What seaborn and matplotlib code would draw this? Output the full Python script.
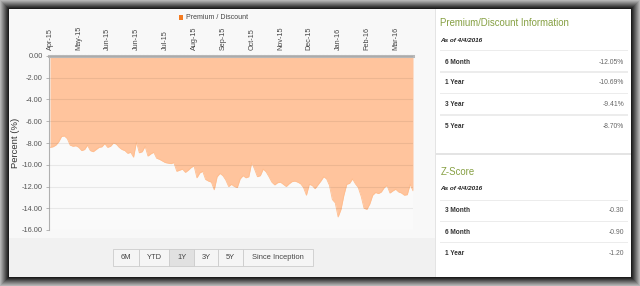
import numpy as np
import pandas as pd
import matplotlib
matplotlib.use("Agg")
import matplotlib.pyplot as plt
import seaborn as sns
from matplotlib.patches import Rectangle

# ---------------- data ----------------
values = [
    -8.4, -8.35, -8.2, -7.9, -7.4, -7.35, -7.6, -8.2, -8.3, -8.25,
    -8.4, -8.7, -8.6, -8.2, -8.7, -8.8, -8.6, -8.4, -8.35, -8.05,
    -8.4, -8.3, -8.0, -8.1, -8.4, -8.6, -8.7, -8.95, -8.85, -9.3,
    -7.9, -8.9, -8.8, -8.3, -9.2, -9.0, -8.85, -9.4, -9.5, -9.65,
    -9.8, -9.85, -9.9, -9.8, -10.6, -10.5, -10.4, -10.7, -10.5, -10.25,
    -10.1, -11.2, -10.75, -10.6, -11.35, -11.5, -11.6, -12.3, -11.1, -10.8,
    -11.0, -11.4, -12.0, -11.8, -12.0, -12.1, -11.3, -11.0, -11.2, -11.1,
    -9.8, -10.4, -11.1, -11.0, -10.4, -10.65, -11.1, -11.6, -11.85, -11.65,
    -11.6, -11.8, -12.0, -11.75, -11.55, -11.5, -11.6, -11.75, -12.1, -12.8,
    -11.8, -11.9, -12.2, -11.85, -11.5, -11.1, -11.3, -11.9, -13.2, -13.5,
    -14.8, -14.1, -12.8, -11.8, -11.7, -11.3, -11.75, -12.1, -12.9, -14.0,
    -14.1, -13.6, -12.8, -12.55, -12.65, -12.5, -12.1, -11.9, -12.6, -12.4,
    -12.25, -12.5, -12.6, -12.8, -12.75, -11.8, -12.4,
]
tick_labels = ["Apr-15", "May-15", "Jun-15", "Jun-15", "Jul-15", "Aug-15", "Sep-15",
               "Oct-15", "Nov-15", "Dec-15", "Jan-16", "Feb-16", "Mar-16"]
tick_step = 10
y_ticks = [0, -2, -4, -6, -8, -10, -12, -14, -16]
series_name = "Premium / Discount"
y_label = "Percent (%)"
buttons = ["6M", "YTD", "1Y", "3Y", "5Y", "Since Inception"]
selected_button = "1Y"

pd_title = "Premium/Discount Information"
as_of = "As of 4/4/2016"
pd_labels = ["6 Month", "1 Year", "3 Year", "5 Year"]
pd_values = ["-12.05%", "-10.69%", "-9.41%", "-8.70%"]
z_title = "Z-Score"
z_labels = ["3 Month", "6 Month", "1 Year"]
z_values = ["-0.30", "-0.90", "-1.20"]

# ---------------- style ----------------
sns.set_style("white")
plt.rcParams["font.family"] = ["Liberation Sans", "DejaVu Sans"]

W, H = 640, 286
fig = plt.figure(figsize=(6.4, 2.86), dpi=100)
fig.patch.set_facecolor("#1a1a1a")


def fx(x):
    return x / W


def fy(y):
    return 1 - y / H


def prect(x0, y0, x1, y1, fc, ec="none", lw=0.0, z=-10):
    r = Rectangle((fx(x0), fy(y1)), (x1 - x0) / W, (y1 - y0) / H,
                  transform=fig.transFigure, facecolor=fc, edgecolor=ec,
                  linewidth=lw, zorder=z)
    fig.add_artist(r)
    return r


# gradient frame
frame_cols = ["#b4b4b4", "#a2a2a2", "#8e8e8e", "#7a7a7a", "#666666",
              "#525252", "#3e3e3e", "#2c2c2c", "#1c1c1c"]
for k, c in enumerate(frame_cols):
    prect(k, k, W - k, H - k, c, z=-20 + k * 0.1)

# left content background
prect(9, 9, 435, 277, "#f8f8f8", z=-9)
prect(9, 238, 435, 277, "#f1f1f1", z=-8.9)
# right panel
prect(435, 9, 631, 277, "#e4e4e4", z=-9)
prect(436, 9, 631, 153, "#ffffff", z=-8.8)
prect(436, 155, 631, 277, "#ffffff", z=-8.8)

# ---------------- chart ----------------
ax = fig.add_axes([fx(49), fy(230), (413 - 49) / W, (230 - 56) / H])
ax.set_facecolor("#fafafa")

df = pd.DataFrame({"idx": np.arange(len(values)), "value": values})
ax.fill_between(df["idx"], df["value"], 0, color="#ffc49d", lw=0, zorder=1)
sns.lineplot(data=df, x="idx", y="value", ax=ax, color="#ffbd8e", lw=0.6,
             zorder=2, legend=False)

ax.set_xlim(-0.35, 126.0)
ax.set_ylim(-16, 0)
ax.set_yticks(y_ticks)
ax.set_yticklabels([f"{v:.2f}" for v in y_ticks])
ax.set_xticks(np.arange(len(tick_labels)) * tick_step)
ax.set_xticklabels(tick_labels, rotation=90)
ax.xaxis.tick_top()
ax.tick_params(axis="x", length=0, pad=4, labelsize=5.2, labelcolor="#444444")
ax.tick_params(axis="y", length=2.5, width=0.6, color="#aaaaaa", pad=2,
               labelsize=5.3, labelcolor="#555555", left=True)
ax.set_xlabel("")
ax.set_ylabel("")
ax.grid(axis="y", color="black", alpha=0.07, lw=0.8)
ax.grid(axis="x", visible=False)
ax.set_axisbelow(False)
for s in ["right", "bottom"]:
    ax.spines[s].set_visible(False)
ax.spines["left"].set_color("#b0b0b0")
ax.spines["left"].set_linewidth(0.8)
ax.spines["top"].set_color("#b8b8b8")
ax.spines["top"].set_linewidth(2.2)
ax.spines["top"].set_linestyle((0, (0.6, 0.6)))

fig.text(fx(16), fy(143), y_label, rotation=90, ha="center", va="center",
         fontsize=6.8, color="#333333")

# legend
prect(178.5, 15, 182.5, 19.5, "#f47b20", z=5)
fig.text(fx(186), fy(17.5), series_name, ha="left", va="center",
         fontsize=5.0, color="#444444")

# buttons
edges = [113, 139.3, 169.3, 194, 218.3, 242.7, 313]
for i, b in enumerate(buttons):
    fc = "#e1e1e1" if b == selected_button else "#f5f5f5"
    prect(edges[i], 249, edges[i + 1], 266, fc, ec="#cccccc", lw=0.6, z=3)
    fig.text(fx((edges[i] + edges[i + 1]) / 2), fy(257.8), b, ha="center",
             va="center", fontsize=5.4, color="#444444", zorder=4)

# ---------------- right panel ----------------
green = "#86a043"


def table(title, ty, asy, labels, vals, seps, rows):
    fig.text(fx(440.5), fy(ty), title, ha="left", va="center",
             fontsize=6.9, color=green)
    fig.text(fx(440.5), fy(asy), as_of, ha="left", va="center",
             fontsize=4.6, color="#222222", fontweight="bold", style="italic")
    for s in seps:
        prect(440, s - 0.5, 628, s + 0.5, "#ececec", z=2)
    for lab, v, ry in zip(labels, vals, rows):
        fig.text(fx(445), fy(ry), lab, ha="left", va="center", fontsize=4.7,
                 color="#333333", fontweight="bold")
        fig.text(fx(624), fy(ry), v, ha="right", va="center", fontsize=4.9,
                 color="#666666")


table(pd_title, 23, 40, pd_labels, pd_values, [50.5, 72, 93.5, 115],
      [62, 83, 104.5, 126])
table(z_title, 172, 188.7, z_labels, z_values, [200.5, 221, 242],
      [211, 232, 253.5])

fig.savefig("out.png", dpi=100, facecolor=fig.get_facecolor())
